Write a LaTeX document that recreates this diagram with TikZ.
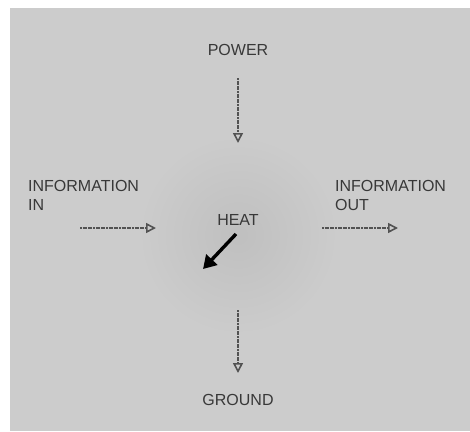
\documentclass[tikz,border=0pt]{standalone}
\usepackage{fontspec}
\setmainfont{Liberation Sans}
\usetikzlibrary{arrows.meta}
\definecolor{bg}{gray}{0.80}
\definecolor{bgdark}{gray}{0.75}
\definecolor{ink}{gray}{0.22}
\definecolor{flow}{gray}{0.32}
\tikzset{
  lbl/.style={text=ink, font=\fontsize{16}{19.5}\selectfont, inner sep=0pt},
  flowarrow/.style={draw=flow, line width=2pt, dash pattern=on 2pt off 0.6pt,
    -{Triangle[open, length=10pt, width=10pt, line width=1.6pt, sep=0pt]}},
  heatarrow/.style={draw=black, line width=3.4pt, -{Triangle[length=13pt, width=15pt]}}
}
\begin{document}
\begin{tikzpicture}[x=1pt,y=-1pt]
\useasboundingbox (0,0) rectangle (470,431);
\fill[white] (0,0) rectangle (470,431);
\fill[bg] (10,8) rectangle (470,431);
\begin{scope}
\clip (10,8) rectangle (470,431);
\shade[inner color=bgdark, outer color=bg] (238,235) circle (100);
\end{scope}
% labels
\node[lbl] (power) at (238,50) {POWER};
\node[lbl, align=left, anchor=north west] (infoin) at (28,180) {INFORMATION\\IN};
\node[lbl, align=left, anchor=north west] (infoout) at (335,180) {INFORMATION\\OUT};
\node[lbl] (heat) at (238,220) {HEAT};
\node[lbl] (ground) at (238,400) {GROUND};
% arrow endpoints
\coordinate (ps) at (238,78);
\coordinate (pe) at (238,143);
\coordinate (is) at (80,228);
\coordinate (ie) at (156,228);
\coordinate (os) at (322,228);
\coordinate (oe) at (398,228);
\coordinate (gs) at (238,310);
\coordinate (ge) at (238,373);
\coordinate (hs) at (236,234);
\coordinate (he) at (203,269);
\draw[flowarrow] (ps) -- (pe);
\draw[flowarrow] (is) -- (ie);
\draw[flowarrow] (os) -- (oe);
\draw[flowarrow] (gs) -- (ge);
\draw[heatarrow] (hs) -- (he);
\end{tikzpicture}
\end{document}
